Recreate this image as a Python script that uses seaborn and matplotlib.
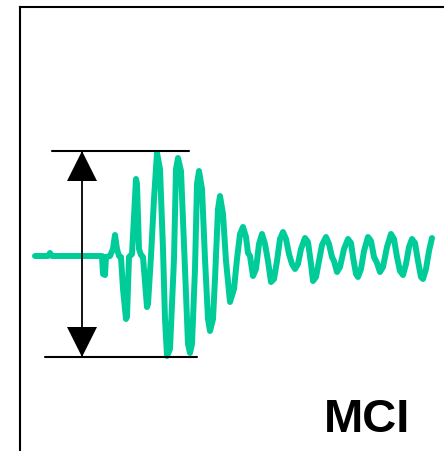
import numpy as np
import seaborn as sns
import matplotlib.pyplot as plt

sns.set_style("white")
plt.rcParams['font.family'] = ['Liberation Sans', 'DejaVu Sans']

# waveform (time, amplitude; baseline = 0)
time = [0, 13, 15, 17, 67, 68, 70, 71, 75, 78, 80, 82, 84, 86, 88, 91, 92,
        94, 97, 101, 102, 104, 106, 108, 112, 113, 116, 119, 122, 125, 128,
        130, 132, 135, 139, 141, 143, 146, 150, 153, 155, 157, 160, 162, 164,
        167, 170, 173, 175, 178, 180, 183, 185, 188, 191, 195, 199, 202, 205,
        208, 211, 213, 215, 218, 221, 224, 227, 230, 233, 236, 239, 242, 245,
        248, 251, 254, 257, 260, 263, 266, 270, 273, 276, 278, 281, 284, 287,
        291, 294, 297, 299, 302, 305, 309, 313, 316, 318, 321, 323, 326, 329,
        333, 336, 339, 342, 345, 348, 352, 356, 359, 362, 365, 368, 371, 374,
        377, 380, 383, 386, 388, 391, 394, 397]
amplitude = [0, 0, 3, 0, 0, -18, -19, -1, 0, 7, 21, 7, 0, -1, -33, -63, -61,
             -1, 2, 77, 72, 7, 1, -1, -51, -48, 0, 57, 103, 87, 7,
             -63, -100, -93, -3, 87, 98, 85, -13, -88, -97, -88, -13, 72, 85,
             67, -3, -63, -75, -63, -23, 47, 60, 42, -5, -46, -33, -3, 22,
             29, 19, 3, 0, -20, -13, 12, 22, 12, -5, -26, -23, -5, 17,
             24, 17, 2, -8, -13, -8, 7, 18, 14, -8, -25, -21, -5, 11,
             19, 12, -1, -5, -16, -11, 7, 17, 13, -1, -18, -21, -13, 5,
             19, 15, -1, -7, -16, -11, 9, 22, 17, -1, -15, -19, -8, 9,
             17, 13, -5, -21, -23, -13, 5, 18]

# peak-to-peak marker
peak_top = 105
peak_bottom = -101
top_line = [17, 154]
bottom_line = [10, 162]
arrow_time = 47

fig = plt.figure(figsize=(4.44, 4.52), dpi=100)
ax = fig.add_axes([19.5 / 444, 0, 1 - 19.5 / 444, 1 - 7.5 / 452])

sns.lineplot(x=time, y=amplitude, sort=False, estimator=None, ax=ax,
             color='#00cc99', linewidth=4.3, solid_joinstyle='round',
             solid_capstyle='round')

ax.plot(top_line, [peak_top, peak_top], color='black', linewidth=1.5)
ax.plot(bottom_line, [peak_bottom, peak_bottom], color='black', linewidth=1.5)
ax.plot([arrow_time, arrow_time], [peak_top, peak_bottom], color='black',
        linewidth=1.3)
ax.plot([arrow_time], [peak_top - 15], marker='^', markersize=21.6,
        color='black', markeredgewidth=0)
ax.plot([arrow_time], [peak_bottom + 15], marker='v', markersize=21.6,
        color='black', markeredgewidth=0)

ax.text(332.5, -175, 'MCI', fontsize=34, fontweight='bold', ha='center',
        va='baseline', color='black')

ax.set_xlim(-15.5, 409)
ax.set_ylim(-195, 249.5)
ax.set_xticks([])
ax.set_yticks([])
for side in ['right', 'bottom']:
    ax.spines[side].set_visible(False)
for side in ['left', 'top']:
    ax.spines[side].set_color('black')
    ax.spines[side].set_linewidth(1.5)

plt.savefig('out.png', dpi=100)
